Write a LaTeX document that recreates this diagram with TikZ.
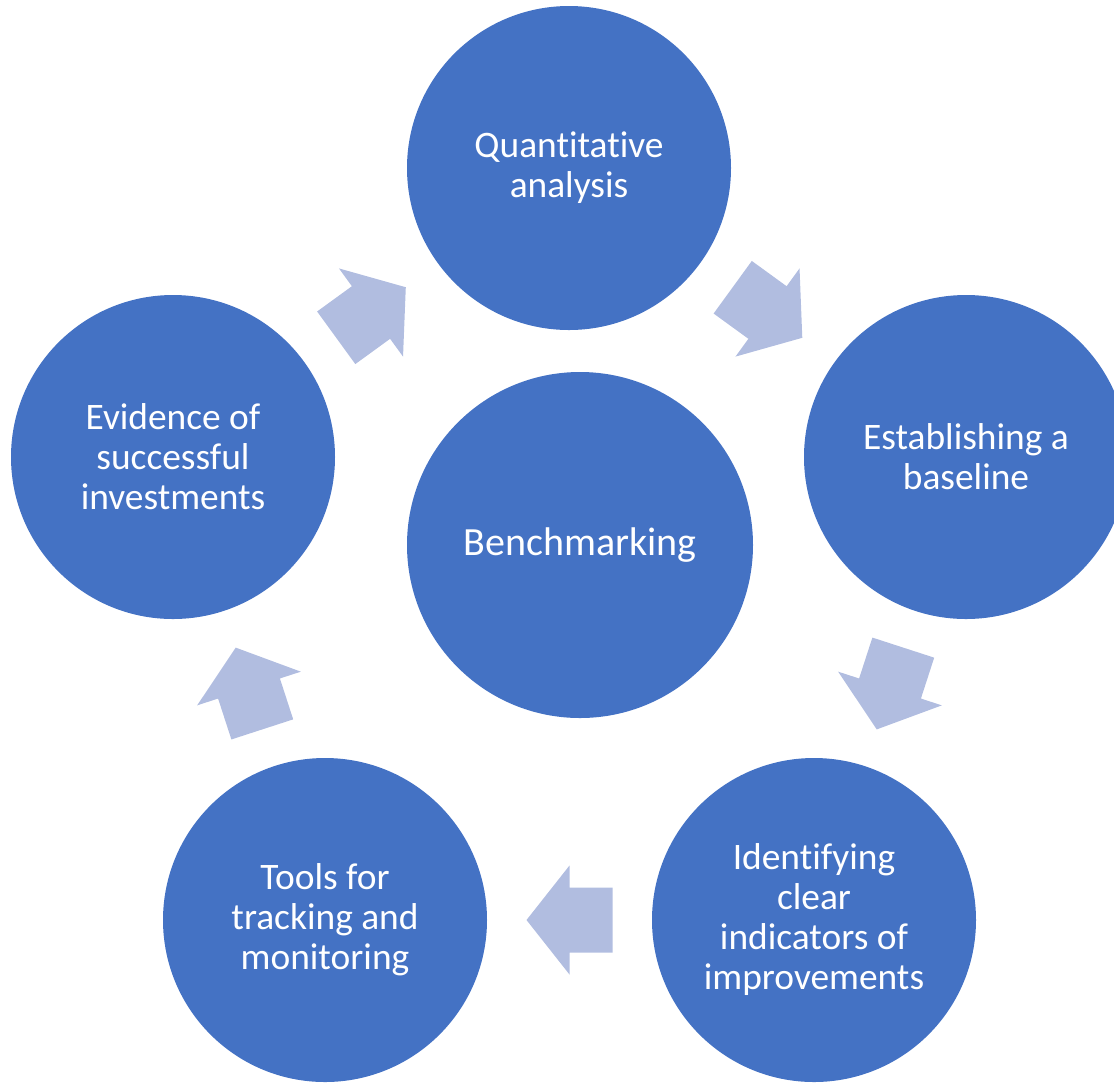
\documentclass[tikz,border=0pt]{standalone}
\usepackage{fontspec}
\setmainfont{Carlito}[Ligatures=NoCommon]
\usepackage{tikz}
\usetikzlibrary{calc,positioning,shapes}
\definecolor{stepblue}{HTML}{4472C4}
\definecolor{flowblue}{RGB}{177,189,224}
\tikzstyle{stage}     = [circle, minimum size=162pt, inner sep=0pt, fill=stepblue, text=white, align=center, font=\fontsize{18.7}{20}\selectfont]
\tikzstyle{hub}       = [stage, minimum size=173pt, font=\fontsize{20}{24}\selectfont]
\tikzstyle{flow}      = [fill=flowblue]
% block arrow halfway between two stages, turned by #3
\newcommand{\cyclearrow}[3]{\fill[flow, shift={($(#1)!0.5!(#2)$)}, rotate=#3] (-43,-32.5) -- (0,-32.5) -- (0,-54.5) -- (43,0) -- (0,54.5) -- (0,32.5) -- (-43,32.5) -- cycle;}

\begin{document}
\begin{tikzpicture}[x=0.5pt, y=-0.5pt]
		\useasboundingbox (0,0) rectangle (1114,1084);
		\clip (0,0) rectangle (1114,1084);

		\node[hub]   (bench)    at (580,545) {Benchmarking};
		\node[stage] (quant)    at (569,168) {Quantitative\\analysis};
		\node[stage] (baseline) at (966,457) {Establishing a\\baseline};
		\node[stage] (indic)    at (814,920) {Identifying\\clear\\indicators of\\improvements};
		\node[stage] (tools)    at (325,920) {Tools for\\tracking and\\monitoring};
		\node[stage] (evid)     at (173,457) {Evidence of\\successful\\investments};

		\cyclearrow{evid}{quant}{36}
		\cyclearrow{quant}{baseline}{-36}
		\cyclearrow{baseline}{indic}{-108}
		\cyclearrow{indic}{tools}{180}
		\cyclearrow{tools}{evid}{108}
	\end{tikzpicture}
\end{document}
